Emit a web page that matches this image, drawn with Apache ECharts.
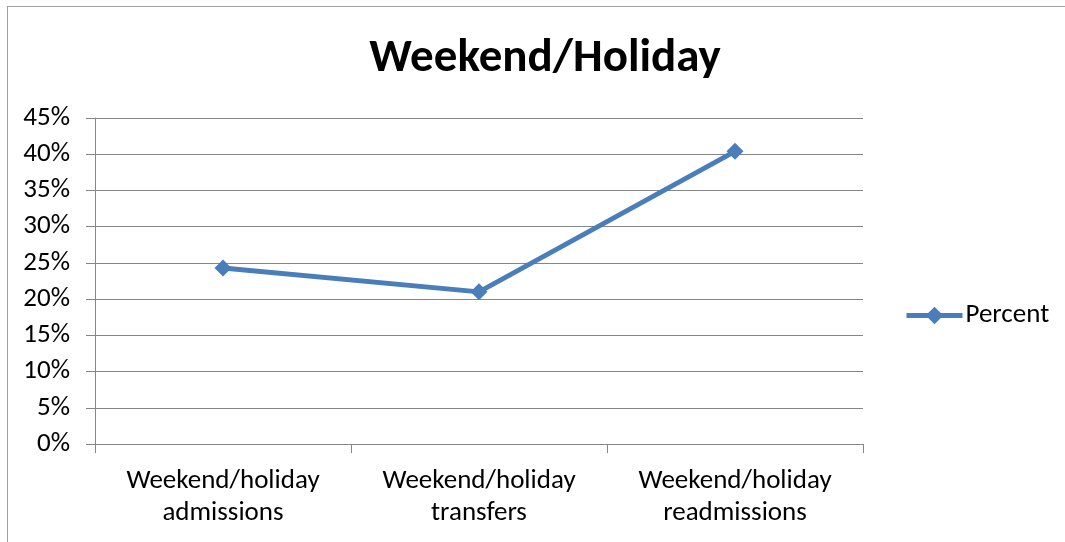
<!DOCTYPE html>
<html>
<head>
<meta charset="utf-8">
<script src="https://cdn.jsdelivr.net/npm/echarts@6/dist/echarts.min.js"></script>
<style>
  html, body { margin: 0; padding: 0; background: #fff; }
  #frame { position: absolute; left: 7px; top: 6px; width: 1070px; height: 560px; border: 1px solid #a0a0a0; box-sizing: border-box; }
  #chart { position: absolute; left: 0; top: 0; width: 1065px; height: 542px; }
</style>
</head>
<body>
<div id="frame"></div>
<div id="chart"></div>
<script>
const categories = ['Weekend/holiday\nadmissions', 'Weekend/holiday\ntransfers', 'Weekend/holiday\nreadmissions']
const percentValues = [24.3, 21.0, 40.4]
const yTicks = { min: 0, max: 45, interval: 5 }

const chart = echarts.init(document.getElementById('chart'))
const fontFamily = 'Carlito, "Open Sans", "Noto Sans", sans-serif'
const option = {
  backgroundColor: 'transparent',
  animation: false,
  textStyle: { fontFamily: fontFamily },
  title: {
    text: 'Weekend/Holiday',
    left: 540,
    top: 31,
    textAlign: 'center',
    textStyle: { fontSize: 47, fontWeight: 'bold', color: '#000', fontFamily: fontFamily }
  },
  legend: {
    data: ['Percent'],
    left: 904,
    top: 302,
    padding: 0,
    itemWidth: 56,
    itemHeight: 22,
    itemGap: 4,
    lineStyle: { width: 5 },
    textStyle: { fontSize: 27, color: '#000', padding: [0, 0, 0, -2] }
  },
  grid: { left: 95, right: 202, top: 118, bottom: 98 },
  xAxis: {
    type: 'category',
    data: categories,
    boundaryGap: true,
    axisLine: { lineStyle: { color: '#868686', width: 1 } },
    axisTick: { show: true, length: 9, lineStyle: { color: '#868686' } },
    axisLabel: { fontSize: 27, color: '#000', margin: 21, lineHeight: 32 }
  },
  yAxis: {
    type: 'value',
    min: yTicks.min,
    max: yTicks.max,
    interval: yTicks.interval,
    axisLine: { show: true, lineStyle: { color: '#868686', width: 1 } },
    axisTick: { show: true, length: 9, lineStyle: { color: '#868686' } },
    axisLabel: { fontSize: 27, color: '#000', margin: 25, formatter: '{value}%' },
    splitLine: { lineStyle: { color: '#868686', width: 1 } }
  },
  series: [
    {
      name: 'Percent',
      type: 'line',
      data: percentValues,
      symbol: 'diamond',
      symbolSize: 17,
      lineStyle: { color: '#4a7ebb', width: 5 },
      itemStyle: { color: '#4a7ebb' }
    }
  ]
}
chart.setOption(option)
</script>
</body>
</html>
